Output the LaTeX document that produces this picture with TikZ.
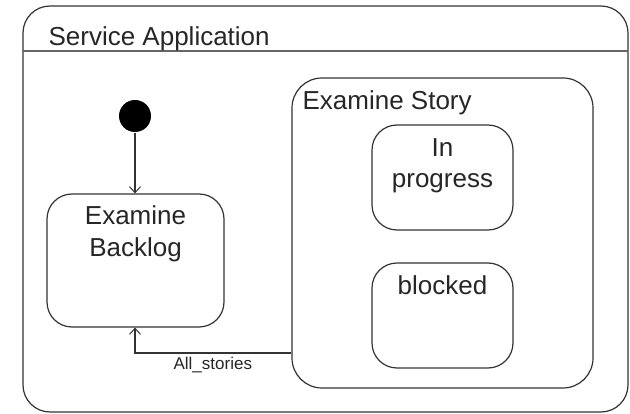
\documentclass[tikz,border=0pt]{standalone}
\usepackage{fontspec}
\setmainfont{Liberation Sans}
\usetikzlibrary{arrows.meta}
\begin{document}
\begin{tikzpicture}[x=1pt,y=-1pt,
  line width=1.2pt,
  frame/.style={draw=black!80,rounded corners=#1},
  lbl/.style={font=\fontsize{26}{31}\selectfont,text=black!85,inner sep=0pt},
  small/.style={font=\fontsize{17}{20}\selectfont,text=black!85,inner sep=0pt},
  arr/.style={draw=black!80,-{Straight Barb[length=6pt,width=11pt,line width=1pt]}}]
\useasboundingbox (0,0) rectangle (630,414);
\fill[white] (0,0) rectangle (630,414);
% outer frame
\draw[frame=27] (23,6) rectangle (628,412);
\coordinate (hl) at (23,51);
\coordinate (hr) at (628,51);
\draw[draw=black!60,line width=1.8pt] (hl) -- (hr);
\node[lbl,anchor=base west] (title) at (48,46) {Service Application};
% composite state
\draw[frame=30] (292,78) rectangle (593,388);
\node[inner sep=0pt,minimum width=301pt,minimum height=310pt] (story) at (442.5,233) {};
\node[lbl,anchor=base west] (storyt) at (302,110) {Examine Story};
% substates
\draw[frame=25] (372,125) rectangle (513,230);
\node[inner sep=0pt,minimum width=141pt,minimum height=105pt] (prog) at (442.5,177.5) {};
\node[lbl,anchor=base] (progt1) at (442.5,157) {In};
\node[lbl,anchor=base] (progt2) at (442.5,188) {progress};
\draw[frame=25] (372,263) rectangle (513,368);
\node[inner sep=0pt,minimum width=141pt,minimum height=105pt] (blk) at (442.5,315.5) {};
\node[lbl,anchor=base] (blkt) at (442.5,295) {blocked};
% backlog
\draw[frame=25] (47,194) rectangle (224,327);
\node[inner sep=0pt,minimum width=177pt,minimum height=133pt] (back) at (135.5,260.5) {};
\node[lbl,anchor=base] (backt1) at (135.5,225) {Examine};
\node[lbl,anchor=base] (backt2) at (135.5,257) {Backlog};
% initial
\node[circle,fill=black,inner sep=0pt,minimum size=32pt] (init) at (135,116) {};
\draw[arr] (init.south) -- (back.north -| init.south);
% transition
\coordinate (corner) at (135,353);
\draw[arr] (story.west |- corner) -- (corner) -- (back.south -| corner);
\node[small,anchor=base west] (tl) at (173,370) {All\_stories};
\end{tikzpicture}
\end{document}
